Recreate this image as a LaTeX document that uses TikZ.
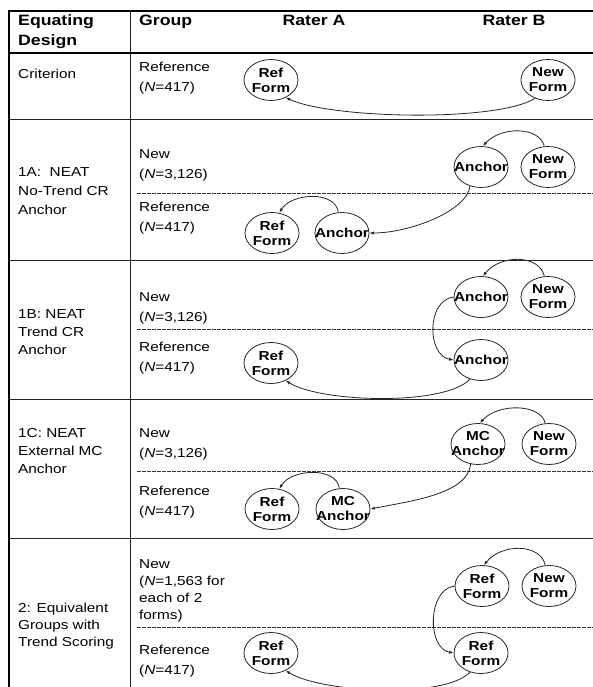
\documentclass[tikz,border=0pt]{standalone}
\usepackage{fontspec}
\setmainfont{Liberation Sans}[FakeStretch=1.18]
\usetikzlibrary{shapes.geometric,arrows.meta}
\newcommand\bodyfont{\fontsize{13}{20}\selectfont}
\newcommand\nodefont{\fontsize{13}{15}\selectfont\bfseries}
\newcommand\hdrfont{\fontsize{15}{20}\selectfont\bfseries}
\begin{document}
\begin{tikzpicture}[x=1pt,y=-1pt,
  every node/.style={inner sep=0pt},
  frm/.style={ellipse,draw=black!85,line width=0.8pt,minimum width=54pt,minimum height=41pt},
  lbl/.style={align=center,font=\nodefont},
  txt/.style={anchor=north west,align=left,font=\bodyfont},
  hdr/.style={font=\hdrfont},
  arr/.style={draw=black!85,line width=0.8pt,-{Latex[length=4.5pt,width=3.2pt]}},
  rowline/.style={draw=black!85,line width=1pt},
  dashline/.style={draw=black!80,line width=0.7pt,dash pattern=on 3.5pt off 1.5pt}]
\useasboundingbox (0,0) rectangle (593,687);
% table rules
\draw[line width=2pt] (8,11) -- (593,11);
\draw[line width=2.5pt] (9,10) -- (9,687);
\draw[rowline] (130,11) -- (130,687);
\draw[line width=1.3pt] (9,53) -- (593,53);
\draw[rowline] (9,119.5) -- (593,119.5);
\draw[rowline] (9,260) -- (593,260);
\draw[rowline] (9,399) -- (593,399);
\draw[rowline] (9,538) -- (593,538);
\draw[dashline] (137,193) -- (593,193);
\draw[dashline] (137,329) -- (593,329);
\draw[dashline] (137,471) -- (593,471);
\draw[dashline] (137,627) -- (593,627);
% header
\node[hdr,anchor=north west,align=left] (hd) at (18,14.6) {Equating\\Design};
\node[hdr,anchor=north west] (hg) at (139,14.6) {Group};
\node[hdr] (ha) at (314,20) {Rater A};
\node[hdr] (hb) at (514,20) {Rater B};
% left column
\node[txt] (d0) at (18,69.3) {Criterion};
\node[txt,font=\fontsize{13}{19}\selectfont] (d1) at (18,167.3) {1A:\ \ NEAT\\No-Trend CR\\Anchor};
\node[txt,font=\fontsize{13}{18}\selectfont] (d2) at (18,309.3) {1B: NEAT\\Trend CR\\Anchor};
\node[txt,font=\fontsize{13}{18}\selectfont] (d3) at (18,428.3) {1C: NEAT\\External MC\\Anchor};
\node[txt,font=\fontsize{13}{17}\selectfont] (d4) at (18,603.3) {2: Equivalent\\Groups with\\Trend Scoring};
% group column
\node[txt] (g0) at (139,62.3) {Reference\\(\textit{N}=417)};
\node[txt] (g1) at (139,149.3) {New\\(\textit{N}=3,126)};
\node[txt] (g2) at (139,202.3) {Reference\\(\textit{N}=417)};
\node[txt] (g3) at (139,292.3) {New\\(\textit{N}=3,126)};
\node[txt] (g4) at (139,342.3) {Reference\\(\textit{N}=417)};
\node[txt] (g5) at (139,428.3) {New\\(\textit{N}=3,126)};
\node[txt] (g6) at (139,486.3) {Reference\\(\textit{N}=417)};
\node[txt,font=\fontsize{13}{17}\selectfont] (g7) at (139,559.3) {New\\(\textit{N}=1,563 for\\each of 2\\forms)};
\node[txt] (g8) at (139,645.3) {Reference\\(\textit{N}=417)};
% Criterion
\node[frm,label={[lbl]center:{Ref\\Form}}] (rf1) at (271,80) {};
\node[frm,label={[lbl]center:{New\\Form}}] (nf1) at (548,80) {};
\draw[arr] (nf1.235) .. controls +(-40,24) and +(45,21) .. (rf1.-50);
% 1A
\node[frm,label={[lbl]center:Anchor}] (an2) at (481,167) {};
\node[frm,label={[lbl]center:{New\\Form}}] (nf2) at (548,167) {};
\node[frm,label={[lbl]center:{Ref\\Form}}] (rf2) at (272,233) {};
\node[frm,label={[lbl]center:Anchor}] (an3) at (342,233) {};
\draw[arr] (nf2.100) .. controls +(-5,-20) and +(18,-20) .. (an2.85);
\draw[arr] (an2.240) .. controls +(-3,25) and +(40,0) .. (an3.east);
\draw[arr] (an3.100) .. controls +(-3,-22) and +(12,-20) .. (rf2.70);
% 1B
\node[frm,label={[lbl]center:Anchor}] (an4) at (481,297) {};
\node[frm,label={[lbl]center:{New\\Form}}] (nf3) at (548,297) {};
\node[frm,label={[lbl]center:Anchor}] (an5) at (481,360) {};
\node[frm,label={[lbl]center:{Ref\\Form}}] (rf3) at (271,363) {};
\draw[arr] (nf3.100) .. controls +(-5,-22) and +(18,-22) .. (an4.85);
\draw[arr] (an4.west) .. controls +(-27,3) and +(-27,-5) .. (an5.west);
\draw[arr] (an5.240) .. controls +(-25,27) and +(35,22) .. (rf3.-50);
% 1C
\node[frm,label={[lbl]center:{MC\\Anchor}}] (mc1) at (478,444) {};
\node[frm,label={[lbl]center:{New\\Form}}] (nf4) at (549,444) {};
\node[frm,label={[lbl]center:{Ref\\Form}}] (rf4) at (272,509) {};
\node[frm,label={[lbl]center:{MC\\Anchor}}] (mc2) at (343,509) {};
\draw[arr] (nf4.100) .. controls +(-5,-20) and +(18,-20) .. (mc1.85);
\draw[arr] (mc1.250) .. controls +(-3,30) and +(40,-8) .. (mc2.east);
\draw[arr] (mc2.100) .. controls +(-3,-22) and +(12,-20) .. (rf4.70);
% 2
\node[frm,label={[lbl]center:{Ref\\Form}}] (rf5) at (482,586) {};
\node[frm,label={[lbl]center:{New\\Form}}] (nf5) at (549,586) {};
\node[frm,label={[lbl]center:{Ref\\Form}}] (rf6) at (481,653) {};
\node[frm,label={[lbl]center:{Ref\\Form}}] (rf7) at (271,653) {};
\draw[arr] (nf5.100) .. controls +(-5,-22) and +(18,-22) .. (rf5.85);
\draw[arr] (rf5.west) .. controls +(-27,3) and +(-27,-5) .. (rf6.west);
\draw[arr] (rf6.240) .. controls +(-25,27) and +(35,22) .. (rf7.-50);
\end{tikzpicture}
\end{document}
